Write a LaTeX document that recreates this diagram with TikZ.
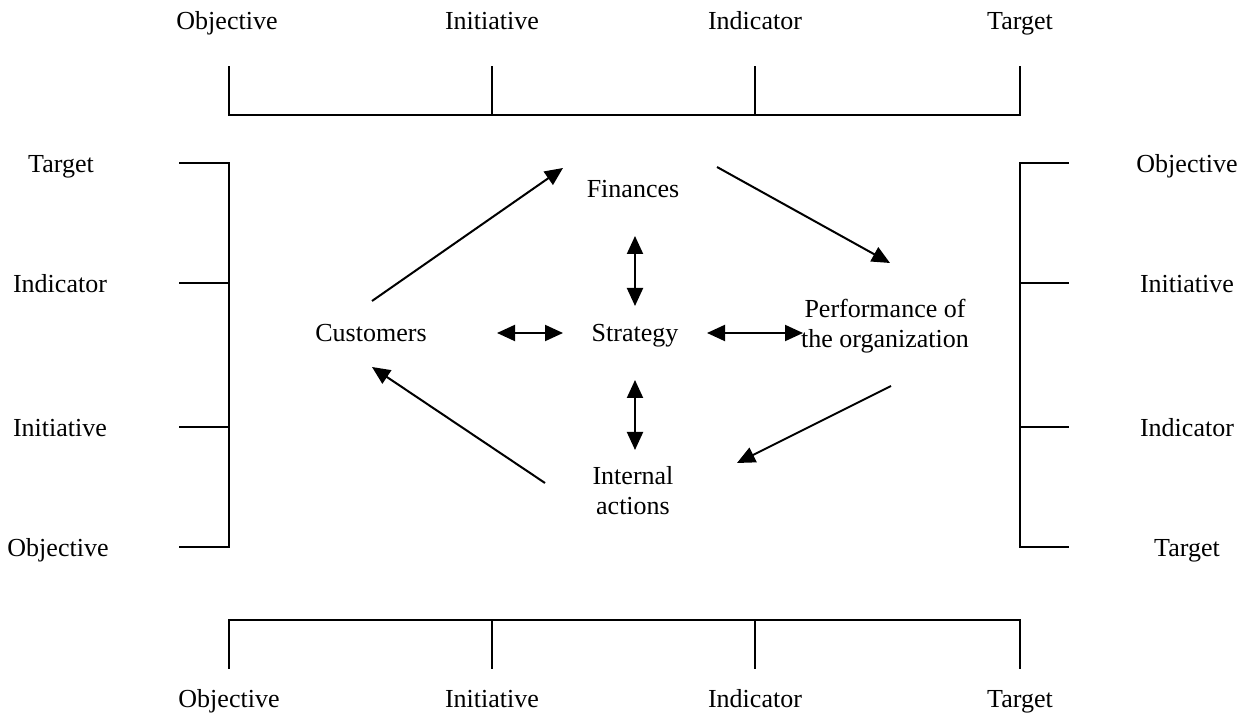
\documentclass[tikz,border=0pt]{standalone}
\usepackage{fontspec}
\setmainfont{Liberation Serif}
\usetikzlibrary{arrows.meta}
\begin{document}
\begin{tikzpicture}[x=0.5pt,y=-0.5pt,
  lbl/.style={inner sep=0pt,anchor=base,font=\fontsize{13pt}{15pt}\selectfont},
  ctr/.style={inner sep=0pt,anchor=center,align=center,font=\fontsize{13pt}{15pt}\selectfont},
  bracket/.style={line width=1pt,line cap=rect},
  arr/.style={line width=1pt,-{Triangle[length=9pt,width=8pt]}},
  darr/.style={line width=1pt,{Triangle[length=9pt,width=8pt]}-{Triangle[length=9pt,width=8pt]}}]
\useasboundingbox (0,0) rectangle (1250,716);
% top bracket
\draw[bracket] (229,67) -- (229,115) -- (1020,115) -- (1020,67);
\draw[bracket] (492,67) -- (492,115);
\draw[bracket] (755,67) -- (755,115);
\node[lbl] (tobj) at (227,30) {Objective};
\node[lbl] (tini) at (492,30) {Initiative};
\node[lbl] (tind) at (755,30) {Indicator};
\node[lbl] (ttar) at (1020,30) {Target};
% bottom bracket
\draw[bracket] (229,668) -- (229,620) -- (1020,620) -- (1020,668);
\draw[bracket] (492,668) -- (492,620);
\draw[bracket] (755,668) -- (755,620);
\node[lbl] (bobj) at (229,708) {Objective};
\node[lbl] (bini) at (492,708) {Initiative};
\node[lbl] (bind) at (755,708) {Indicator};
\node[lbl] (btar) at (1020,708) {Target};
% left bracket
\draw[bracket] (180,163) -- (229,163) -- (229,547) -- (180,547);
\draw[bracket] (180,283) -- (229,283);
\draw[bracket] (180,427) -- (229,427);
\node[lbl] (ltar) at (61,173) {Target};
\node[lbl] (lind) at (60,293) {Indicator};
\node[lbl] (lini) at (60,437) {Initiative};
\node[lbl] (lobj) at (58,557) {Objective};
% right bracket
\draw[bracket] (1068,163) -- (1020,163) -- (1020,547) -- (1068,547);
\draw[bracket] (1068,283) -- (1020,283);
\draw[bracket] (1068,427) -- (1020,427);
\node[lbl] (robj) at (1187,173) {Objective};
\node[lbl] (rini) at (1187,293) {Initiative};
\node[lbl] (rind) at (1187,437) {Indicator};
\node[lbl] (rtar) at (1187,557) {Target};
% center nodes
\node[lbl] (fin) at (633,198) {Finances};
\node[lbl] (cus) at (371,342) {Customers};
\node[lbl] (str) at (635,342) {Strategy};
\node[ctr] (perf) at (885,326) {Performance of\\the organization};
\node[ctr] (int) at (633,491) {Internal\\actions};
% arrow end points
\coordinate (a1s) at (372,301); \coordinate (a1e) at (563,168);
\coordinate (a2s) at (717,167); \coordinate (a2e) at (890,263);
\coordinate (a3s) at (891,386); \coordinate (a3e) at (737,463);
\coordinate (a4s) at (545,483); \coordinate (a4e) at (372,367);
\coordinate (h1a) at (497,333); \coordinate (h1b) at (563,333);
\coordinate (h2a) at (707,333); \coordinate (h2b) at (803,333);
\coordinate (v1a) at (635,236); \coordinate (v1b) at (635,306);
\coordinate (v2a) at (635,380); \coordinate (v2b) at (635,450);
\draw[arr] (a1s) -- (a1e);
\draw[arr] (a2s) -- (a2e);
\draw[arr] (a3s) -- (a3e);
\draw[arr] (a4s) -- (a4e);
\draw[darr] (h1a) -- (h1b);
\draw[darr] (h2a) -- (h2b);
\draw[darr] (v1a) -- (v1b);
\draw[darr] (v2a) -- (v2b);
\end{tikzpicture}
\end{document}
